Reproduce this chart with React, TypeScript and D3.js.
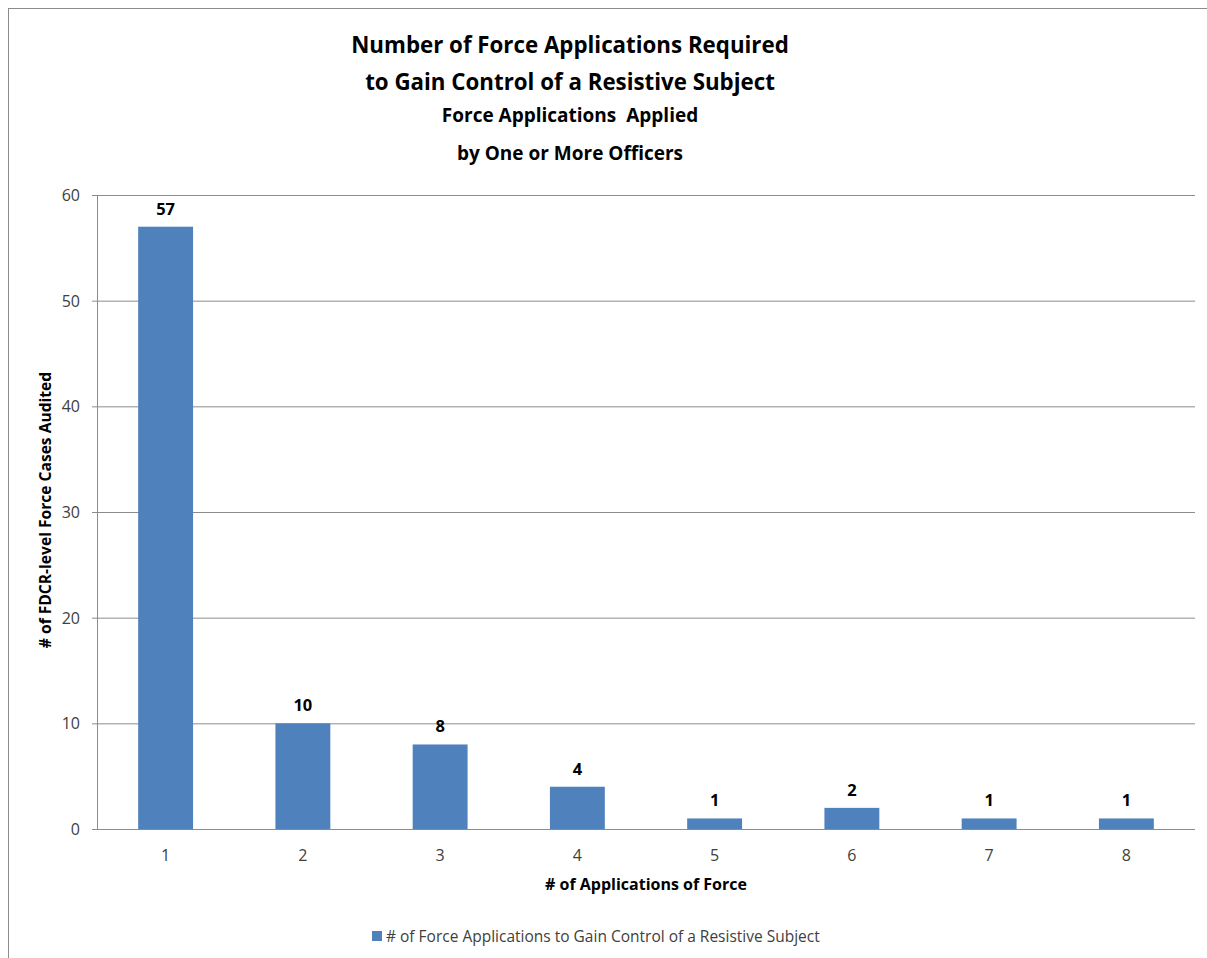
import React from "react";
import * as d3 from "d3";

const categories = ["1", "2", "3", "4", "5", "6", "7", "8"];
const values = [57, 10, 8, 4, 1, 2, 1, 1];
const yTicks = [0, 10, 20, 30, 40, 50, 60];
const titleLines = ["Number of Force Applications Required", "to Gain Control of a Resistive Subject"];
const subtitleLines = ["Force Applications\u00a0 Applied", "by One or More Officers"];
const seriesName = "# of Force Applications to Gain Control of a Resistive Subject";
const xTitle = "# of Applications of Force";
const yTitle = "# of FDCR-level Force Cases Audited";

export default function App() {
  const W = 1207, H = 958;
  const left = 97, right = 1195, top = 195, bottom = 829;
  const x = d3.scaleBand<string>().domain(categories).range([left, right]).paddingInner(0.6).paddingOuter(0.3);
  const y = d3.scaleLinear().domain([0, 60]).range([bottom, top]);
  const font = "Open Sans, Noto Sans, sans-serif";
  return (
    <svg width={W} height={H} style={{ position: "absolute", left: 0, top: 0 }} fontFamily={font}>
      <rect x={0} y={0} width={W} height={H} fill="#fff" />
      <rect x={8.5} y={8.5} width={W + 20} height={H + 20} fill="none" stroke="#8c8c8c" />
      {titleLines.map((t, i) => (
        <text key={t} x={570} y={53 + i * 37} textAnchor="middle" fontSize={22.3} fontWeight="bold" fill="#000">{t}</text>
      ))}
      {subtitleLines.map((t, i) => (
        <text key={t} x={570} y={122 + i * 38} textAnchor="middle" fontSize={19} fontWeight="bold" fill="#000">{t}</text>
      ))}
      {yTicks.map((t) => (
        <g key={t}>
          {t > 0 && <line x1={left} x2={right} y1={y(t) + 0.5} y2={y(t) + 0.5} stroke="#8c8c8c" strokeWidth={1} />}
          <line x1={left - 5} x2={left} y1={y(t) + 0.5} y2={y(t) + 0.5} stroke="#8c8c8c" />
          <text x={80} y={y(t) + 6} textAnchor="end" fontSize={16} fill="#404040">{t}</text>
        </g>
      ))}
      <line x1={left + 0.5} x2={left + 0.5} y1={top} y2={bottom} stroke="#8c8c8c" />
      {categories.map((c, i) => (
        <g key={c}>
          <rect x={x(c)!} y={y(values[i])} width={x.bandwidth()} height={bottom - y(values[i])} fill="#4F81BD" />
          <text x={x(c)! + x.bandwidth() / 2} y={y(values[i]) - 12} textAnchor="middle" fontSize={16.5} fontWeight="bold" fill="#000">{values[i]}</text>
          <text x={x(c)! + x.bandwidth() / 2} y={861} textAnchor="middle" fontSize={16} fill="#404040">{c}</text>
        </g>
      ))}
      <line x1={left} x2={right} y1={bottom + 0.5} y2={bottom + 0.5} stroke="#8c8c8c" />
      <text x={646} y={890} textAnchor="middle" fontSize={16} fontWeight="bold" fill="#000">{xTitle}</text>
      <text transform={`translate(51,${510}) rotate(-90)`} textAnchor="middle" fontSize={15.6} fontWeight="bold" fill="#000">{yTitle}</text>
      <rect x={372} y={931} width={10} height={10} fill="#4F81BD" />
      <text x={386} y={942} fontSize={15.5} fill="#404040">{seriesName}</text>
    </svg>
  );
}
